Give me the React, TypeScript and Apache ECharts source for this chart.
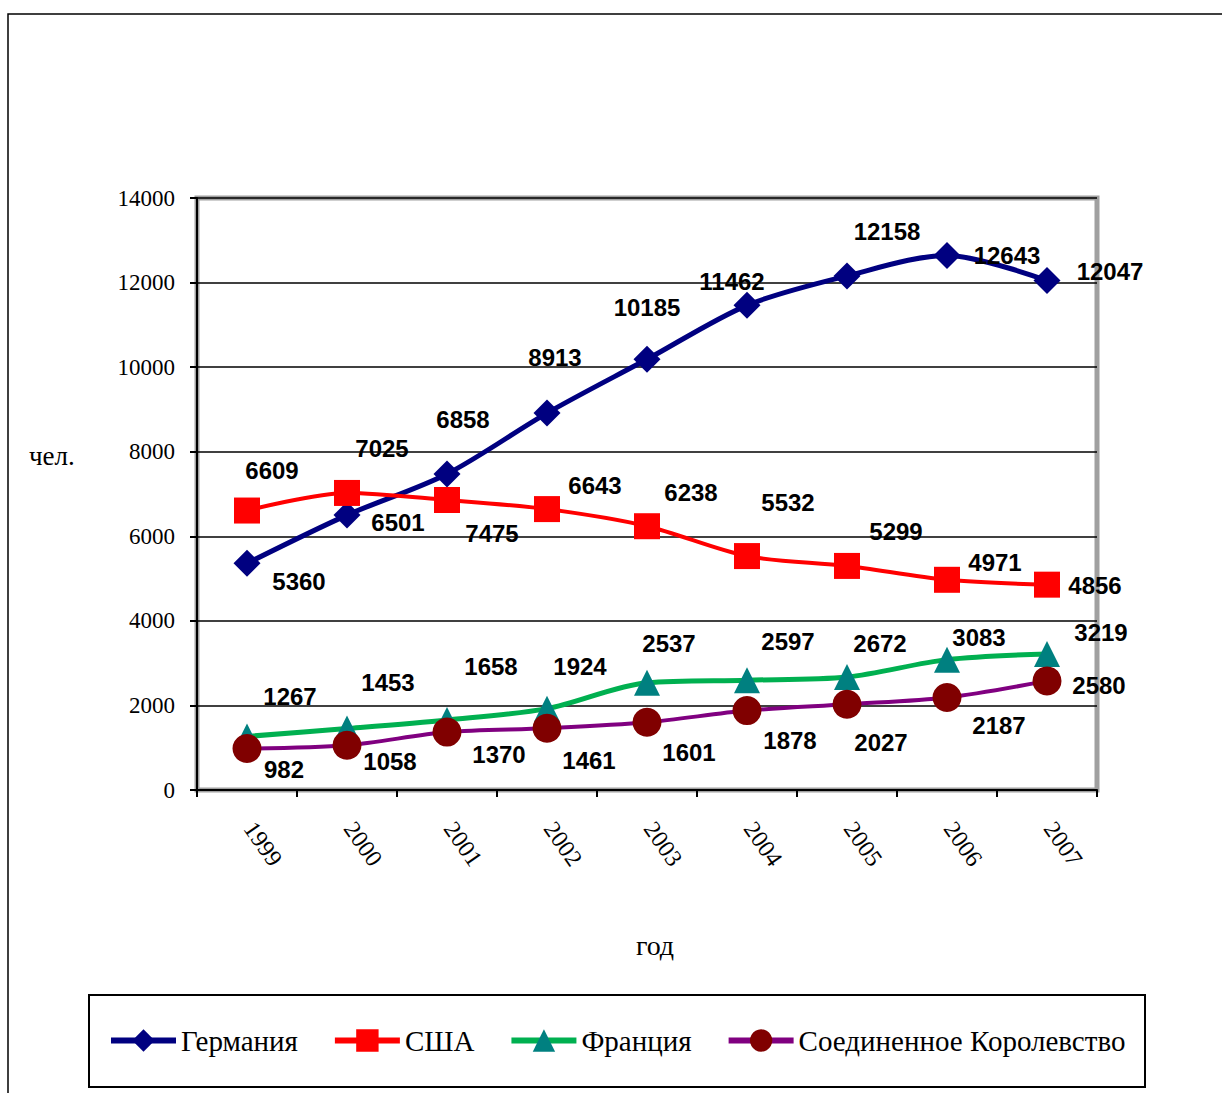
import React, { useEffect, useRef } from "react";
import * as echarts from "echarts";

const years = ["1999", "2000", "2001", "2002", "2003", "2004", "2005", "2006", "2007"];
const germany = [5360, 6501, 7475, 8913, 10185, 11462, 12158, 12643, 12047];
const usa = [6609, 7025, 6858, 6643, 6238, 5532, 5299, 4971, 4856];
const france = [1267, 1453, 1658, 1924, 2537, 2597, 2672, 3083, 3219];
const uk = [982, 1058, 1370, 1461, 1601, 1878, 2027, 2187, 2580];
const seriesNames = ["Германия", "США", "Франция", "Соединенное Королевство"];

// label offsets (label centre relative to marker), in pixels
const germanyOff = [[52, 18], [51, 7], [45, 60], [8, -56], [0, -52], [-15, -24], [40, -44], [60, 0], [63, -9]];
const usaOff = [[25, -40], [35, -44], [16, -81], [48, -24], [44, -34], [41, -54], [49, -34], [48, -17], [48, 1]];
const franceOff = [[43, -40], [41, -46], [44, -53], [33, -42], [22, -39], [41, -39], [33, -34], [32, -22], [54, -21]];
const ukOff = [[37, 21], [43, 16], [52, 22], [42, 32], [42, 30], [43, 30], [34, 38], [52, 28], [52, 5]];

const SERIF = "Liberation Serif";
const SANS = "Liberation Sans";

function mkData(values: number[], offs: number[][]) {
  return values.map((v, i) => ({
    value: v,
    label: { offset: offs[i] },
  }));
}

export default function App() {
  const ref = useRef<HTMLDivElement>(null);
  useEffect(() => {
    document.body.style.margin = "0";
    const chart = echarts.init(ref.current!, undefined, { renderer: "svg" });
    const labelStyle = {
      show: true,
      position: "inside",
      color: "#000",
      fontFamily: SANS,
      fontWeight: "bold",
      fontSize: 24,
    };
    const mk = (name: string, values: number[], offs: number[][], lineColor: string, symbol: string, symColor: string, size: number, width: number) => ({
      name,
      type: "line",
      data: mkData(values, offs),
      smooth: 0.3,
      symbol,
      symbolSize: size,
      lineStyle: { color: lineColor, width },
      itemStyle: { color: symColor },
      label: labelStyle,
    });
    chart.setOption({
      animation: false,
      backgroundColor: "#fff",
      grid: {
        left: 197,
        right: 125,
        top: 198,
        bottom: 303,
        show: true,
        borderColor: "#a0a0a0",
        borderWidth: 5,
        backgroundColor: "#fff",
      },
      xAxis: {
        type: "category",
        data: years,
        boundaryGap: true,
        axisLine: { lineStyle: { color: "#000", width: 2 } },
        axisTick: { show: true, length: 7, lineStyle: { color: "#000", width: 2 } },
        axisLabel: {
          rotate: -55,
          margin: 31,
          padding: [0, 0, 0, 4],
          color: "#000",
          fontFamily: SERIF,
          fontSize: 24,
        },
      },
      yAxis: {
        type: "value",
        min: 0,
        max: 14000,
        interval: 2000,
        axisLine: { show: true, lineStyle: { color: "#000", width: 2 } },
        axisTick: { show: true, length: 7, lineStyle: { color: "#000", width: 2 } },
        axisLabel: {
          margin: 22,
          color: "#000",
          fontFamily: SERIF,
          fontSize: 23,
          formatter: (v: number) => String(v),
        },
        splitLine: { show: true, lineStyle: { color: "#000", width: 1.5 } },
      },
      legend: {
        data: seriesNames,
        left: 108,
        top: 1026,
        padding: 0,
        itemWidth: 65,
        itemHeight: 28,
        itemGap: 34,
        lineStyle: { width: 6 },
        textStyle: { fontFamily: SERIF, fontSize: 29, color: "#000" },
      },
      graphic: [
        {
          type: "rect",
          shape: { x: 8, y: 14, width: 1400, height: 1300 },
          style: { fill: "none", stroke: "#000", lineWidth: 1.5 },
          silent: true,
          z: -10,
        },
        {
          type: "rect",
          shape: { x: 89, y: 995, width: 1056, height: 92 },
          style: { fill: "none", stroke: "#000", lineWidth: 2 },
          silent: true,
        },
        {
          type: "text",
          x: 29,
          y: 456,
          style: { text: "чел.", fontFamily: SERIF, fontSize: 27, fill: "#000", verticalAlign: "middle" },
        },
        {
          type: "text",
          x: 655,
          y: 945,
          style: { text: "год", fontFamily: SERIF, fontSize: 28, fill: "#000", align: "center", verticalAlign: "middle" },
        },
      ],
      series: [
        mk(seriesNames[0], germany, germanyOff, "#000080", "diamond", "#000080", 27, 5),
        mk(seriesNames[1], usa, usaOff, "#ff0000", "rect", "#ff0000", 26, 4),
        mk(seriesNames[2], france, franceOff, "#00b050", "triangle", "#008080", 26, 5),
        mk(seriesNames[3], uk, ukOff, "#800080", "circle", "#800000", 29, 4),
      ],
    });
    return () => chart.dispose();
  }, []);
  return (
    <div
      ref={ref}
      style={{ position: "absolute", left: 0, top: 0, width: 1222, height: 1093 }}
    />
  );
}
